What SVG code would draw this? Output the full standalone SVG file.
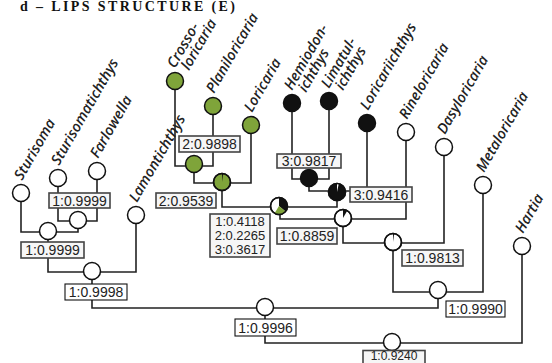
<svg xmlns="http://www.w3.org/2000/svg" width="552" height="363" viewBox="0 0 552 363">
<style>
.ln{fill:none;stroke:#222;stroke-width:1.6}
.nd{fill:#fff;stroke:#111;stroke-width:1.5}
.g{fill:#7fa43a}
.k{fill:#111}
.ol{fill:none;stroke:#111;stroke-width:1.5}
.bx{fill:#f6f6f6;stroke:#444;stroke-width:1.6}
.bk{fill:#fff;stroke:#111;stroke-width:1.1}
.lb{font-family:"Liberation Sans",Arial,sans-serif;font-size:14px;fill:#222;text-anchor:middle}
.lt{font-family:"Liberation Sans",Arial,sans-serif;font-size:13px;fill:#222;text-anchor:middle}
.ls{font-family:"Liberation Sans",Arial,sans-serif;font-size:12px;fill:#222;text-anchor:middle}
.tx{font-family:"Open Sans","Liberation Sans",sans-serif;font-style:italic;font-weight:600;font-size:14.5px;fill:#222}
.tt{font-family:"Liberation Serif","Times New Roman",serif;font-weight:bold;font-size:14px;fill:#111}
</style>
<rect width="552" height="363" fill="#fff"/>
<text class="tt" x="20" y="11" textLength="215">d – LIPS STRUCTURE (E)</text>

<g id="connectors">
<path class="ln" d="M58,178 V221 H97 V171"/>
<path class="ln" d="M21,193 V232 H78 V220"/>
<path class="ln" d="M48,231 V272 H136 V215"/>
<path class="ln" d="M175,81 V166 H213 V106"/>
<path class="ln" d="M194,164 V183 H251 V125"/>
<path class="ln" d="M292,103 V179 H329 V101"/>
<path class="ln" d="M309,178 V191 H367 V123"/>
<path class="ln" d="M222,182 V207 H337 V192"/>
<path class="ln" d="M280,206 V219 H406 V132"/>
<path class="ln" d="M343,218 V243 H444 V147"/>
<path class="ln" d="M393,242 V292 H483 V185"/>
<path class="ln" d="M92,271 V308 H438 V290"/>
<path class="ln" d="M265,307 V343 H522 V246"/>
</g>

<g id="leaf-sturisoma"><circle class="nd" cx="21" cy="193" r="8.5"/><text class="tx" transform="translate(22,181) rotate(-60)">Sturisoma</text></g>
<g id="leaf-sturisomatichthys"><circle class="nd" cx="58" cy="178" r="8.5"/><text class="tx" transform="translate(59,166) rotate(-60)">Sturisomatichthys</text></g>
<g id="leaf-farlowella"><circle class="nd" cx="97" cy="171" r="8.5"/><text class="tx" transform="translate(98,159) rotate(-60)">Farlowella</text></g>
<g id="leaf-lamontichthys"><circle class="nd" cx="136" cy="215" r="8.5"/><text class="tx" transform="translate(137,203) rotate(-60)">Lamontichthys</text></g>
<g id="leaf-crossoloricaria"><circle class="nd g" cx="175" cy="81" r="8.5"/><text class="tx" transform="translate(175,69) rotate(-60)">Crosso-</text><text class="tx" transform="translate(189,71) rotate(-60)">loricaria</text></g>
<g id="leaf-planiloricaria"><circle class="nd g" cx="213" cy="106" r="8.5"/><text class="tx" transform="translate(214,94) rotate(-60)">Planiloricaria</text></g>
<g id="leaf-loricaria"><circle class="nd g" cx="251" cy="125" r="8.5"/><text class="tx" transform="translate(252,113) rotate(-60)">Loricaria</text></g>
<g id="leaf-hemiodontichthys"><circle class="nd k" cx="292" cy="103" r="8.5"/><text class="tx" transform="translate(292,91) rotate(-60)">Hemiodon-</text><text class="tx" transform="translate(306,93) rotate(-60)">ichthys</text></g>
<g id="leaf-limatulichthys"><circle class="nd k" cx="329" cy="101" r="8.5"/><text class="tx" transform="translate(329,89) rotate(-60)">Limatul-</text><text class="tx" transform="translate(343,91) rotate(-60)">ichthys</text></g>
<g id="leaf-loricariichthys"><circle class="nd k" cx="367" cy="123" r="8.5"/><text class="tx" transform="translate(368,111) rotate(-60)">Loricariichthys</text></g>
<g id="leaf-rineloricaria"><circle class="nd" cx="406" cy="132" r="8.5"/><text class="tx" transform="translate(407,120) rotate(-60)">Rineloricaria</text></g>
<g id="leaf-dasyloricaria"><circle class="nd" cx="444" cy="147" r="8.5"/><text class="tx" transform="translate(445,135) rotate(-60)">Dasyloricaria</text></g>
<g id="leaf-metaloricaria"><circle class="nd" cx="483" cy="185" r="8.5"/><text class="tx" transform="translate(484,173) rotate(-60)">Metaloricaria</text></g>
<g id="leaf-hartia"><circle class="nd" cx="522" cy="246" r="8.5"/><text class="tx" transform="translate(523,234) rotate(-60)">Hartia</text></g>

<g id="node-a"><circle class="nd" cx="78" cy="220" r="8.5"/><rect class="bx" x="49" y="193" width="61" height="15"/><text class="lb" x="79.5" y="205.5">1:0.9999</text></g>
<g id="node-b"><circle class="nd" cx="48" cy="231" r="8.5"/><rect class="bx" x="21" y="242" width="63" height="16"/><text class="lb" x="52.5" y="255">1:0.9999</text></g>
<g id="node-c"><circle class="nd" cx="92" cy="271" r="8.5"/><rect class="bk" x="65" y="284" width="62" height="16"/><text class="lb" x="96" y="297">1:0.9998</text></g>
<g id="node-d"><circle class="nd g" cx="194" cy="164" r="8.5"/><rect class="bx" x="179" y="136" width="61" height="16"/><text class="lb" x="209.5" y="149">2:0.9898</text></g>
<g id="node-e"><circle class="nd g" cx="222" cy="182" r="8.5"/><path class="k" d="M222,182 L222,173.5 A8.5,8.5 0 0 1 223.18,173.58 Z"/><circle class="ol" cx="222" cy="182" r="8.5"/><rect class="bx" x="156" y="193" width="60" height="15"/><text class="lb" x="186" y="205.5">2:0.9539</text></g>
<g id="node-f"><circle class="nd k" cx="309" cy="178" r="8.5"/><rect class="bx" x="277" y="154" width="64" height="14"/><text class="lb" x="309" y="166">3:0.9817</text></g>
<g id="node-g"><circle class="nd k" cx="337" cy="192" r="8.5"/><path fill="#fff" d="M337,192 L337,183.5 A8.5,8.5 0 0 1 338.77,183.69 Z"/><circle class="ol" cx="337" cy="192" r="8.5"/><rect class="bx" x="350" y="187" width="62" height="15"/><text class="lb" x="381" y="199.5">3:0.9416</text></g>
<g id="node-h"><circle class="nd" cx="279" cy="206" r="8.5"/><path class="k" d="M279,206 L279,197.5 A8.5,8.5 0 0 1 285.51,211.46 Z"/><path class="g" d="M279,206 L285.51,211.46 A8.5,8.5 0 0 1 274.55,213.24 Z"/><circle class="ol" cx="279" cy="206" r="8.5"/><rect class="bx" x="210" y="214" width="60" height="43"/><text class="lt" x="240" y="226">1:0.4118</text><text class="lt" x="240" y="240">2:0.2265</text><text class="lt" x="240" y="254">3:0.3617</text></g>
<g id="node-i"><circle class="nd" cx="343" cy="218" r="8.5"/><path class="k" d="M343,218 L343,209.5 A8.5,8.5 0 0 1 347.25,210.64 Z"/><circle class="ol" cx="343" cy="218" r="8.5"/><rect class="bx" x="277" y="228" width="60" height="16"/><text class="lb" x="307" y="241">1:0.8859</text></g>
<g id="node-j"><circle class="nd" cx="393" cy="242" r="8.5"/><path class="k" d="M393,242 L393,233.5 A8.5,8.5 0 0 1 394.18,233.58 Z"/><circle class="ol" cx="393" cy="242" r="8.5"/><rect class="bx" x="402" y="250" width="61" height="16"/><text class="lb" x="432.5" y="263">1:0.9813</text></g>
<g id="node-k"><circle class="nd" cx="438" cy="290" r="8.5"/><rect class="bk" x="446" y="301" width="59" height="16"/><text class="lb" x="475.5" y="314">1:0.9990</text></g>
<g id="node-l"><circle class="nd" cx="265" cy="307" r="8.5"/><rect class="bk" x="235" y="319" width="61" height="17"/><text class="lb" x="265.5" y="332.5">1:0.9996</text></g>
<g id="node-m"><circle class="nd" cx="392" cy="342" r="8.5"/><rect class="bx" x="363" y="350.5" width="62" height="14"/><text class="ls" x="394" y="359.5">1:0.9240</text></g>
</svg>
